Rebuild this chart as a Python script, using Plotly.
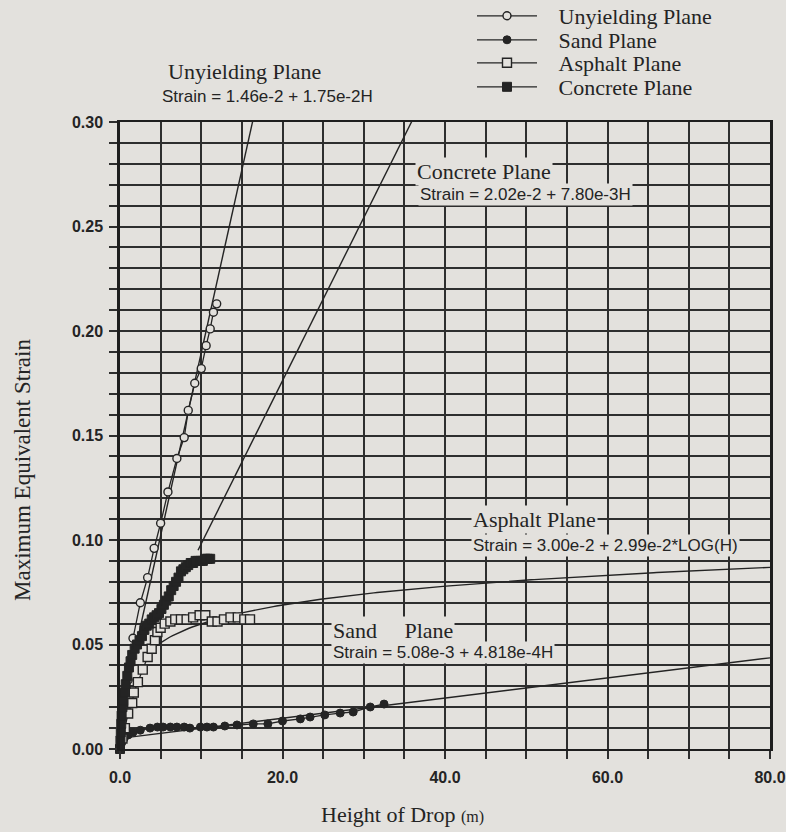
import numpy as np
import plotly.graph_objects as go

# ---------------- data ----------------
unyield_h = [0.0, 0.1, 0.5, 1.0, 1.6, 2.5, 3.4, 4.2, 5.0, 5.9, 7.0, 7.9, 8.4, 9.2, 10.0, 10.6, 11.1, 11.5, 11.9]
unyield_s = [0.0, 0.004, 0.019, 0.033, 0.053, 0.070, 0.082, 0.096, 0.108, 0.123, 0.139, 0.149, 0.162, 0.175, 0.182, 0.193, 0.201, 0.209, 0.213]

sand_h = [0.0, 0.2, 0.5, 1.0, 1.6, 2.5, 3.7, 4.6, 5.3, 6.2, 7.0, 7.9, 8.6, 9.9, 10.7, 11.5, 12.9,
          14.4, 16.4, 18.2, 20.0, 22.2, 23.4, 25.2, 27.1, 28.7, 30.8, 32.5]
sand_s = [0.0, 0.003, 0.005, 0.0067, 0.008, 0.009, 0.010, 0.0105, 0.0105, 0.0105, 0.0105, 0.0105, 0.010,
          0.0105, 0.0105, 0.0105, 0.011, 0.0115, 0.012, 0.012, 0.0134, 0.0144, 0.0153, 0.0163, 0.0172,
          0.0177, 0.0201, 0.0215]

asphalt_h = [0.3, 0.6, 1.0, 1.5, 1.7, 2.2, 2.8, 3.4, 3.9, 4.3, 4.6, 5.0, 5.5, 6.2, 6.8, 7.5, 8.2, 9.0,
             9.8, 10.5, 11.3, 12.0, 12.8, 13.6, 14.5, 15.3, 16.0]
asphalt_s = [0.005, 0.010, 0.017, 0.022, 0.027, 0.032, 0.038, 0.044, 0.048, 0.052, 0.056, 0.058, 0.060,
             0.061, 0.062, 0.062, 0.062, 0.063, 0.064, 0.064, 0.061, 0.061, 0.062, 0.063, 0.063, 0.062, 0.062]

concrete_h = [0.0, 0.05, 0.1, 0.15, 0.2, 0.3, 0.4, 0.5, 0.7, 0.9, 1.1, 1.3, 1.5, 1.8, 2.1, 2.4, 2.7, 3.0,
              3.3, 3.6, 3.9, 4.2, 4.5, 4.8, 5.1, 5.4, 5.7, 6.0, 6.3, 6.6, 6.9, 7.2, 7.5, 7.8, 8.1, 8.4,
              8.7, 9.0, 9.3, 9.6, 9.9, 10.2, 10.5, 10.8, 11.1]
concrete_s = [0.0, 0.004, 0.008, 0.012, 0.016, 0.020, 0.023, 0.027, 0.031, 0.035, 0.039, 0.042, 0.045,
              0.048, 0.050, 0.052, 0.054, 0.057, 0.059, 0.060, 0.062, 0.063, 0.064, 0.065, 0.067, 0.069,
              0.071, 0.073, 0.076, 0.078, 0.080, 0.082, 0.085, 0.086, 0.087, 0.088, 0.089, 0.089, 0.090,
              0.090, 0.090, 0.090, 0.091, 0.091, 0.091]

# fitted equations printed on the chart
UNY_A, UNY_B = 1.46e-2, 1.75e-2
CON_A, CON_B = 2.02e-2, 7.80e-3
ASP_A, ASP_B = 3.00e-2, 2.99e-2
SAND_A, SAND_B = 5.08e-3, 4.818e-4

x_ticks = [0, 20, 40, 60, 80]
y_ticks = [0.00, 0.05, 0.10, 0.15, 0.20, 0.25, 0.30]

PAPER = "#e3e1dd"
INK = "#242424"
SERIF = "Liberation Serif, Times New Roman, serif"
SANS = "Liberation Sans, Arial, sans-serif"
NB = "\u00a0"

fig = go.Figure()

# fitted lines
fh = np.array([0.0, 80.0])
fig.add_trace(go.Scatter(x=fh, y=UNY_A + UNY_B * fh, mode="lines",
                         line=dict(color=INK, width=1.4), showlegend=False, hoverinfo="skip"))
fh_c = np.array([9.6, 80.0])
fig.add_trace(go.Scatter(x=fh_c, y=CON_A + CON_B * fh_c, mode="lines",
                         line=dict(color=INK, width=1.4), showlegend=False, hoverinfo="skip"))
fh_a = np.linspace(3.0, 80.0, 200)
fig.add_trace(go.Scatter(x=fh_a, y=ASP_A + ASP_B * np.log10(fh_a), mode="lines",
                         line=dict(color=INK, width=1.4), showlegend=False, hoverinfo="skip"))
fig.add_trace(go.Scatter(x=fh, y=SAND_A + SAND_B * fh, mode="lines",
                         line=dict(color=INK, width=1.4), showlegend=False, hoverinfo="skip"))

# data series
fig.add_trace(go.Scatter(x=unyield_h, y=unyield_s, mode="lines+markers", name=NB * 3 + "Unyielding Plane",
                         legend="legend",
                         line=dict(color=INK, width=1.3),
                         marker=dict(symbol="circle", size=8, color=PAPER, line=dict(color=INK, width=1.4)),
                         cliponaxis=False))
fig.add_trace(go.Scatter(x=sand_h, y=sand_s, mode="lines+markers", name=NB * 3 + "Sand Plane",
                         legend="legend2",
                         line=dict(color=INK, width=1.3),
                         marker=dict(symbol="circle", size=8, color=INK, line=dict(color=INK, width=1)),
                         cliponaxis=False))
fig.add_trace(go.Scatter(x=asphalt_h, y=asphalt_s, mode="lines+markers", name=NB * 3 + "Asphalt Plane",
                         legend="legend3",
                         line=dict(color=INK, width=1.3),
                         marker=dict(symbol="square", size=9, color=PAPER, line=dict(color=INK, width=1.4)),
                         cliponaxis=False))
fig.add_trace(go.Scatter(x=concrete_h, y=concrete_s, mode="lines+markers", name=NB * 3 + "Concrete Plane",
                         legend="legend4",
                         line=dict(color=INK, width=1.3),
                         marker=dict(symbol="square", size=9, color=INK, line=dict(color=INK, width=1)),
                         cliponaxis=False))

def leg(py):
    return dict(x=(472 - 120) / 650, y=(749 - py) / 627, xanchor="left", yanchor="middle",
                bgcolor="rgba(0,0,0,0)", borderwidth=0, itemwidth=60,
                font=dict(family=SERIF, size=22, color=INK))

ann_font_serif = dict(family=SERIF, size=22, color=INK)
ann_font_sans = dict(family=SANS, size=17, color=INK)

def paper_x(px):
    return (px - 120) / 650

def paper_y(py):
    return (749 - py) / 627

annotations = []
labels = [
    ("Unyielding Plane", 166, 72, ann_font_serif),
    ("Strain = 1.46e-2 + 1.75e-2H", 160, 97, ann_font_sans),
    ("Concrete Plane", 415, 171, ann_font_serif),
    ("Strain = 2.02e-2 + 7.80e-3H", 418, 194, ann_font_sans),
    ("Asphalt Plane", 471, 519, ann_font_serif),
    ("Strain = 3.00e-2 + 2.99e-2*LOG(H)", 471, 545, ann_font_sans),
    ("Sand" + NB * 4 + " Plane", 331, 630, ann_font_serif),
    ("Strain = 5.08e-3 + 4.818e-4H", 331, 652, ann_font_sans),
]
for txt, lx, ly, f in labels:
    annotations.append(dict(text=txt, x=paper_x(lx), y=paper_y(ly), xref="paper", yref="paper",
                            xanchor="left", yanchor="middle", showarrow=False, font=f,
                            bgcolor=PAPER, borderpad=1))

# axis titles
annotations.append(dict(text="Height of Drop <span style='font-size:16px'>(m)</span>",
                        x=paper_x(402), y=paper_y(815), xref="paper", yref="paper",
                        xanchor="center", yanchor="middle", showarrow=False, font=ann_font_serif))
annotations.append(dict(text="Maximum Equivalent Strain", textangle=-90,
                        x=paper_x(22), y=paper_y(470), xref="paper", yref="paper",
                        xanchor="center", yanchor="middle", showarrow=False,
                        font=dict(family=SERIF, size=23, color=INK)))

GRID = "#2e2e2e"
TICKFONT = dict(family=SANS, size=16, color=INK, weight="bold")
fig.update_layout(
    width=786, height=832,
    margin=dict(l=120, r=16, t=122, b=83, autoexpand=False),
    paper_bgcolor=PAPER, plot_bgcolor=PAPER,
    legend=leg(16), legend2=leg(40), legend3=leg(63), legend4=leg(87),
    annotations=annotations,
    xaxis=dict(range=[0, 80], tickvals=x_ticks, tickformat=".1f",
               showgrid=True, gridcolor=GRID, gridwidth=1.8,
               ticks="outside", ticklen=8, tickcolor=GRID, tickwidth=1.8,
               ticklabelstandoff=5,
               minor=dict(dtick=5, showgrid=True, gridcolor=GRID, gridwidth=1.7,
                          ticks="outside", ticklen=8, tickcolor=GRID, tickwidth=1.7),
               showline=True, linecolor="#1e1e1e", linewidth=2, mirror=True, zeroline=False,
               tickfont=TICKFONT),
    yaxis=dict(range=[0, 0.30], tickvals=y_ticks, tickformat=".2f",
               showgrid=True, gridcolor=GRID, gridwidth=1.8,
               ticks="outside", ticklen=8, tickcolor=GRID, tickwidth=1.8,
               ticklabelstandoff=3,
               minor=dict(dtick=0.01, showgrid=True, gridcolor=GRID, gridwidth=1.7,
                          ticks="outside", ticklen=8, tickcolor=GRID, tickwidth=1.7),
               showline=True, linecolor="#1e1e1e", linewidth=2.5, mirror=True, zeroline=False,
               tickfont=TICKFONT),
)

fig.write_html("out.html", config={"displayModeBar": False},
               post_script="document.body.style.margin='0';")
